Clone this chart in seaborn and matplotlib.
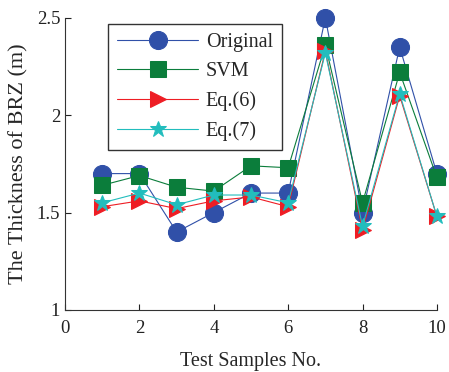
import numpy as np
import pandas as pd
import matplotlib
matplotlib.use("Agg")
import matplotlib.pyplot as plt
import seaborn as sns

samples = [1, 2, 3, 4, 5, 6, 7, 8, 9, 10]
original = [1.70, 1.70, 1.40, 1.50, 1.60, 1.60, 2.50, 1.50, 2.35, 1.70]
svm = [1.64, 1.69, 1.63, 1.61, 1.74, 1.73, 2.36, 1.55, 2.22, 1.68]
eq6 = [1.53, 1.56, 1.52, 1.56, 1.58, 1.53, 2.33, 1.41, 2.10, 1.48]
eq7 = [1.55, 1.60, 1.54, 1.59, 1.59, 1.55, 2.32, 1.43, 2.11, 1.48]
series_names = ["Original", "SVM", "Eq.(6)", "Eq.(7)"]

sns.set_style("ticks")
plt.rcParams['font.family'] = ['Liberation Serif', 'DejaVu Serif']

fig = plt.figure(figsize=(4.49, 3.72), dpi=100)
ax = fig.add_axes([0.145, 0.167, 0.828, 0.785])

styles = [
    dict(color="#3050A8", marker="o", markersize=13),
    dict(color="#0B7D3B", marker="s", markersize=11),
    dict(color="#EE1D24", marker=">", markersize=12),
    dict(color="#22BDBD", marker="*", markersize=12),
]
for name, vals, st in zip(series_names, [original, svm, eq6, eq7], styles):
    df = pd.DataFrame({"x": samples, "y": vals})
    sns.lineplot(data=df, x="x", y="y", ax=ax, label=name, color=st["color"],
                 marker=st["marker"], markersize=st["markersize"],
                 markeredgecolor=st["color"], linewidth=0.8, clip_on=False)

ax.set_xlim(0, 10)
ax.set_ylim(1, 2.5)
ax.set_xticks([0, 2, 4, 6, 8, 10])
ax.set_yticks([1, 1.5, 2, 2.5])
ax.set_yticklabels(["1", "1.5", "2", "2.5"])
ax.set_xticklabels(["0", "2", "4", "6", "8", "10"])
ax.tick_params(direction="in", length=4, labelsize=13.5, colors="#222222")
ax.tick_params(axis="x", pad=7)
for s in ["top", "right"]:
    ax.spines[s].set_visible(False)
for s in ["left", "bottom"]:
    ax.spines[s].set_color("#333333")
    ax.spines[s].set_linewidth(0.8)
ax.set_xlabel("Test Samples No.", fontsize=14.5, labelpad=11)
ax.set_ylabel("The Thickness of BRZ (m)", fontsize=16, labelpad=6)

leg = ax.legend(loc="upper left", bbox_to_anchor=(0.116, 0.98), fontsize=14.5,
                frameon=True, fancybox=False, edgecolor="black",
                handlelength=4.0, borderpad=0.45, labelspacing=0.5,
                handletextpad=0.4, borderaxespad=0)
leg.get_frame().set_linewidth(1.0)

fig.savefig("out.png", dpi=100)
